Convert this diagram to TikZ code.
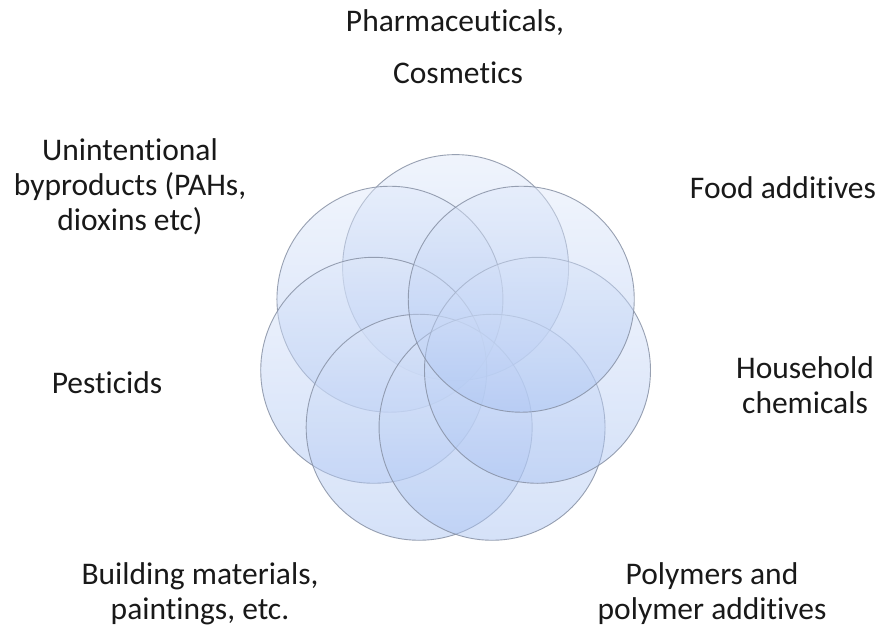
\documentclass[tikz,border=0pt]{standalone}
\usepackage{fontspec}
\setmainfont[Ligatures=NoCommon]{Carlito}
\usetikzlibrary{calc}
\definecolor{circtop}{RGB}{224,233,250}
\definecolor{circbot}{RGB}{168,194,242}
\definecolor{circedge}{RGB}{135,145,165}
\begin{document}
\begin{tikzpicture}[x=1pt,y=-1pt,
  petal/.style={top color=circtop,bottom color=circbot,fill opacity=0.48,draw=circedge,line width=0.9pt,draw opacity=0.85},
  lab/.style={align=center,font=\fontsize{31.5}{35}\selectfont,text=black!90,inner sep=0pt}]
\useasboundingbox (0,0) rectangle (882,632);
\fill[white] (0,0) rectangle (882,632);
\coordinate (ctr) at (455.6,351.6);
\foreach \k in {0,...,6}{
  \shade[petal] ($(ctr)+({90+\k*360/7}:84 and -84)$) circle[radius=113];
}
\node[lab] (pharma) at (455,23) {Pharmaceuticals,};
\node[lab] (cosm) at (458,73) {Cosmetics};
\node[lab] (unint) at (130,187) {Unintentional\\byproducts (PAHs,\\dioxins etc)};
\node[lab] (food) at (783,188) {Food additives};
\node[lab] (house) at (805,385) {Household\\chemicals};
\node[lab] (pest) at (107,383) {Pesticids};
\node[lab] (build) at (200,594) {Building materials,\\paintings, etc.};
\node[lab] (poly) at (712,594) {Polymers and\\polymer additives};
\end{tikzpicture}
\end{document}
